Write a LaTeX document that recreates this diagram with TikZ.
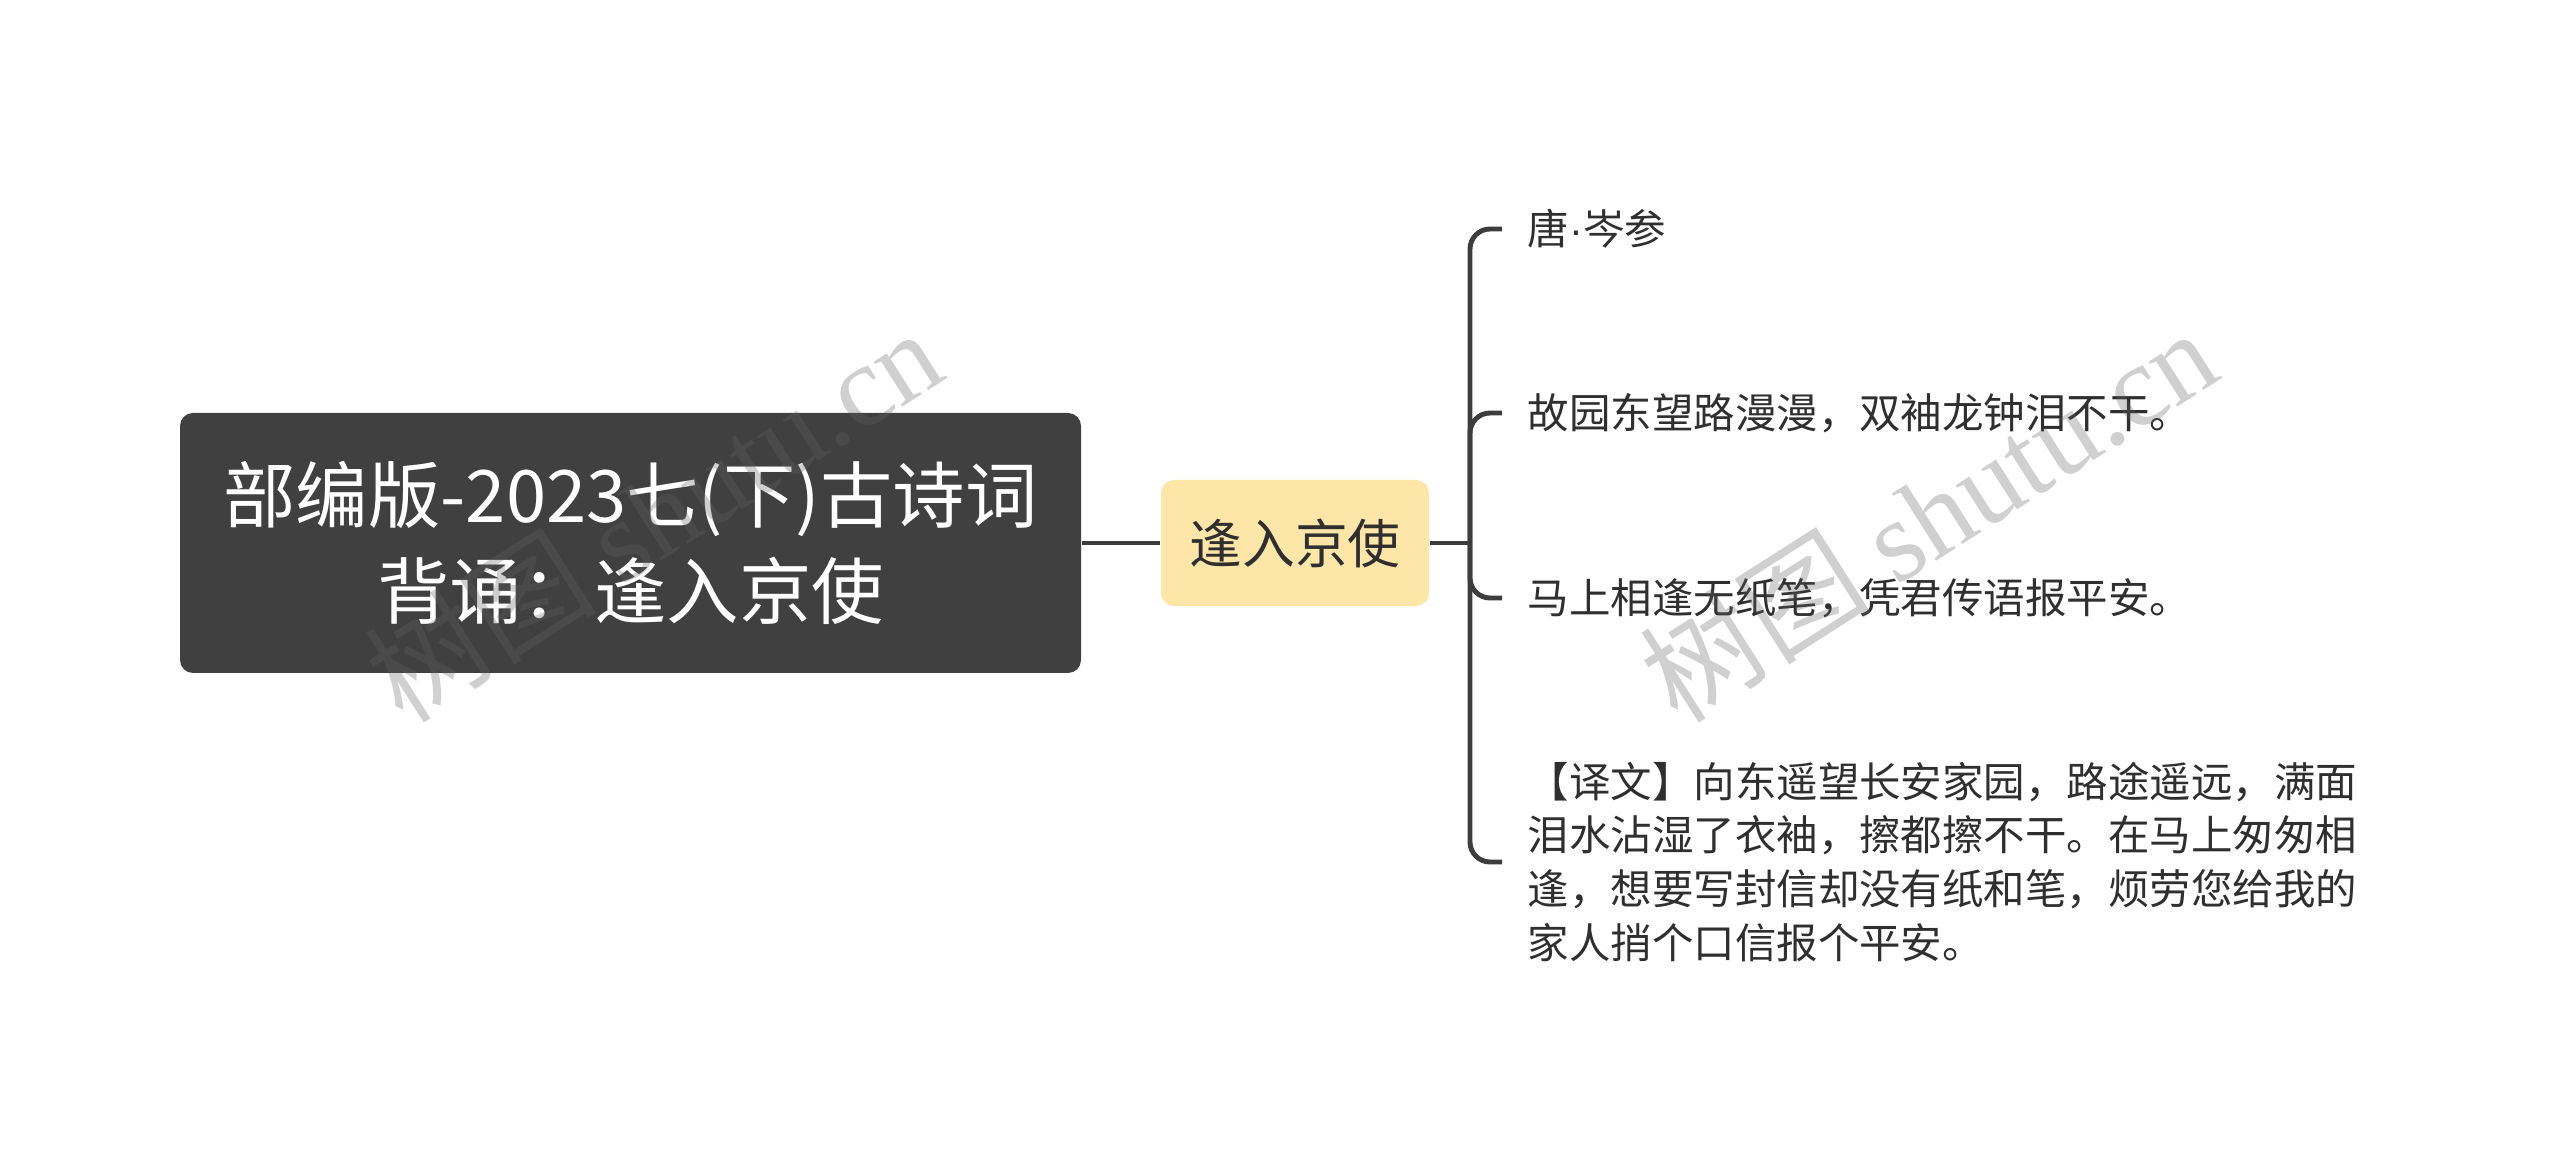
\documentclass[tikz,border=0pt]{standalone}
\usepackage{fontspec}
\setmainfont{Noto Sans CJK SC}
\newfontfamily\markfont{Liberation Serif}
\newfontfamily\dotfont{Liberation Sans}
\usetikzlibrary{positioning}
\definecolor{rootgray}{HTML}{404040}
\definecolor{topicyellow}{HTML}{FEE5A8}
\definecolor{linegray}{HTML}{3D3D3D}
\definecolor{inkgray}{HTML}{2F2F2F}
\definecolor{markgray}{HTML}{626262}

\tikzset{
	rootbox/.style={fill=rootgray, rounded corners=0.13cm, text=white, align=center,
		minimum width=9.01cm, minimum height=2.6cm, inner sep=0pt,
		font=\fontsize{20.6pt}{27.4pt}\selectfont},
	topicbox/.style={fill=topicyellow, rounded corners=0.13cm, text=inkgray,
		minimum width=2.68cm, minimum height=1.26cm, inner sep=0pt,
		font=\fontsize{15pt}{18pt}\selectfont},
	leaf/.style={anchor=west, text=inkgray, align=left, inner xsep=0.25cm, inner ysep=0pt,
		font=\fontsize{11.8pt}{15.3pt}\selectfont},
	branch/.style={draw=linegray, line width=1.4pt, rounded corners=0.2cm},
	watermark/.style={rotate=32.5, text=markgray, opacity=0.3,
		font=\fontsize{33pt}{33pt}\selectfont}
}

\begin{document}
\begin{tikzpicture}
		\useasboundingbox (0,0) rectangle (25.6,-11.67);
		\draw (6.305,-5.43) node[rootbox] (root) {部编版-2023七(下)古诗词\\背诵：逢入京使}
		(12.95,-5.43) node[topicbox] (topic) {逢入京使}
		(15.02,-2.29) node[leaf] (author) {唐{\dotfont ·}岑参}
		(15.02,-4.13) node[leaf] (line1) {故园东望路漫漫，双袖龙钟泪不干。}
		(15.02,-5.98) node[leaf] (line2) {马上相逢无纸笔，凭君传语报平安。}
		(15.02,-8.62) node[leaf] (transl) {【译文】向东遥望长安家园，路途遥远，满面\\泪水沾湿了衣袖，擦都擦不干。在马上匆匆相\\逢，想要写封信却没有纸和笔，烦劳您给我的\\家人捎个口信报个平安。};
		\coordinate (fork) at (14.70,-5.43);
		
		\draw[branch] (root) -- (topic);
		\draw[branch] (topic) -- (fork);
		\draw[branch] (fork) |- (author.west);
		\draw[branch] (fork) |- (line1.west);
		\draw[branch] (fork) |- (line2.west);
		\draw[branch] (fork) |- (transl.west);
		
		\node[watermark] (mark1) at (6.53,-5.14) {树图 {\markfont shutu.cn}};
		\node[watermark] (mark2) at (19.28,-5.14) {树图 {\markfont shutu.cn}};
	\end{tikzpicture}
\end{document}
